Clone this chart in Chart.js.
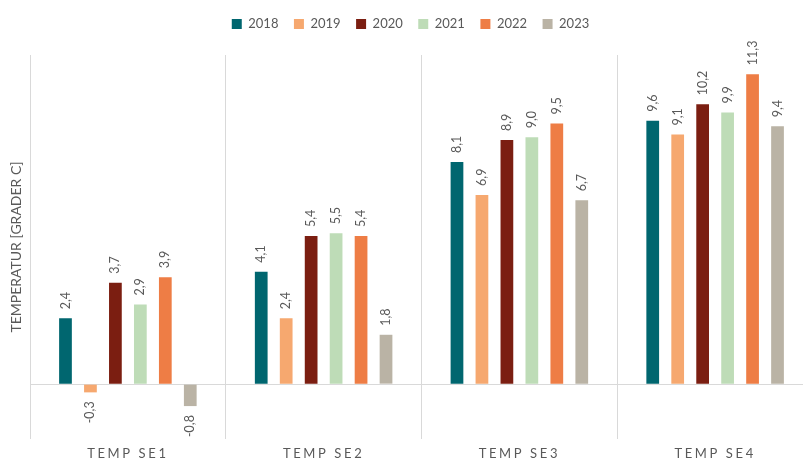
<!DOCTYPE html>
<html>
<head>
<meta charset="utf-8">
<script src="https://cdn.jsdelivr.net/npm/chart.js@4"></script>
<style>
  html, body { margin: 0; padding: 0; overflow: hidden; background: #fff; }
  #wrap { position: relative; width: 813px; height: 460px; }
</style>
</head>
<body>
<div id="wrap"><canvas id="chart"></canvas></div>
<script>
// ── data ──────────────────────────────────────────────
var categories = ["TEMP SE1", "TEMP SE2", "TEMP SE3", "TEMP SE4"];
var years      = ["2018", "2019", "2020", "2021", "2022", "2023"];
var colors     = ["#00666f", "#f6a86f", "#7b1e11", "#bedcb7", "#ee7d45", "#bab3a5"];

var v2018 = [2.4, 4.1, 8.1, 9.6];
var v2019 = [-0.3, 2.4, 6.9, 9.1];
var v2020 = [3.7, 5.4, 8.9, 10.2];
var v2021 = [2.9, 5.5, 9.0, 9.9];
var v2022 = [3.9, 5.4, 9.5, 11.3];
var v2023 = [-0.8, 1.8, 6.7, 9.4];
var series = [v2018, v2019, v2020, v2021, v2022, v2023];

var FONT = "Lato, 'Liberation Sans', sans-serif";
var GREY = "#595959";

// ── value labels (rotated, comma decimal) ─────────────
var barLabels = {
  id: "barLabels",
  afterDatasetsDraw: function(chart) {
    var ctx = chart.ctx;
    ctx.save();
    ctx.font = "12.5px " + FONT;
    ctx.fillStyle = GREY;
    ctx.textBaseline = "middle";
    chart.data.datasets.forEach(function(ds, i) {
      chart.getDatasetMeta(i).data.forEach(function(bar, j) {
        var v = ds.data[j];
        var txt = v.toFixed(1).replace(".", ",");
        ctx.save();
        ctx.translate(bar.x, v >= 0 ? bar.y - 9 : bar.y + 9);
        ctx.rotate(-Math.PI / 2);
        ctx.textAlign = v >= 0 ? "left" : "right";
        ctx.fillText(txt, 0, 0);
        ctx.restore();
      });
    });
    ctx.restore();
  }
};

// spaced-out category labels, taller legend box (gap above plot), legend nudged right
var tweaks = {
  id: "tweaks",
  beforeInit: function(chart) {
    var lg = chart.legend;
    if (lg && !lg._tall) {
      var fit = lg.fit;
      lg.fit = function() { fit.call(this); this.height = Math.max(this.height, 53); };
      lg._tall = true;
    }
  },
  afterLayout: function(chart) {
    if (chart.legend) { chart.legend.left += 4; chart.legend.right += 4; }
  },
  beforeDraw: function(chart) {
    var s = chart.scales.x;
    if (s._spaced) return;
    var orig = s.drawLabels;
    s.drawLabels = function(area) {
      chart.ctx.save();
      chart.ctx.letterSpacing = "2.6px";
      orig.call(s, area);
      chart.ctx.restore();
    };
    s._spaced = true;
  }
};

var datasets = years.map(function(y, i) {
  return {
    label: y,
    data: series[i],
    backgroundColor: colors[i],
    categoryPercentage: 0.765,
    barPercentage: 0.51
  };
});

new Chart(document.getElementById("chart"), {
  type: "bar",
  data: { labels: categories, datasets: datasets },
  plugins: [barLabels, tweaks],
  options: {
    responsive: true,
    maintainAspectRatio: false,
    animation: false,
    layout: { padding: { top: 2, left: 0, right: 0, bottom: 0 } },
    plugins: {
      legend: {
        position: "top",
        labels: {
          boxWidth: 10, boxHeight: 10, padding: 15.5,
          color: GREY, font: { family: FONT, size: 13 }
        }
      },
      tooltip: { enabled: false }
    },
    scales: {
      x: {
        afterFit: function(s) { s.height = 21; },
        grid: { offset: true, color: "#d9d9d9", drawTicks: false, tickLength: 0 },
        border: { display: false },
        ticks: { color: GREY, padding: 7, font: { family: FONT, size: 13 } }
      },
      y: {
        min: -2, max: 12,
        afterFit: function(s) { s.width = 30; },
        ticks: { display: false, stepSize: 2 },
        border: { display: false },
        grid: {
          drawTicks: false, tickLength: 0,
          color: function(c) { return c.tick && c.tick.value === 0 ? "#d9d9d9" : "rgba(0,0,0,0)"; }
        },
        title: {
          display: true, text: "TEMPERATUR [GRADER C]", color: GREY,
          padding: { top: 8, bottom: 0 },
          font: { family: FONT, size: 14 }
        }
      }
    }
  }
});
</script>
</body>
</html>
